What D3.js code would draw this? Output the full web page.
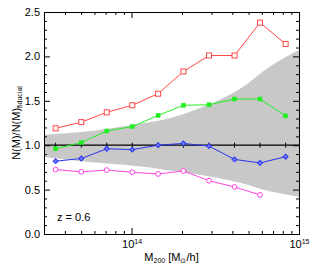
<!DOCTYPE html>
<html>
<head>
<meta charset="utf-8">
<script src="https://cdn.jsdelivr.net/npm/d3@7"></script>
<style>
  body { margin: 0; background: #fff; }
  svg text { font-family: "Liberation Sans", Arial, sans-serif; }
</style>
</head>
<body>
<div id="chart"></div>
<script>
// mass bins (M_sun/h)
var masses = [3.52e13, 5.01e13, 7.11e13, 1.01e14, 1.44e14, 2.04e14, 2.90e14, 4.12e14, 5.85e14, 8.32e14];
var redVals = [1.19, 1.26, 1.37, 1.45, 1.58, 1.83, 2.01, 2.01, 2.38, 2.14];
var greenVals = [0.96, 1.03, 1.16, 1.21, 1.335, 1.45, 1.455, 1.52, 1.52, 1.33];
var blueVals = [0.82, 0.85, 0.96, 0.95, 1.0, 1.02, 0.99, 0.84, 0.80, 0.87];
var magentaVals = [0.725, 0.70, 0.72, 0.695, 0.676, 0.71, 0.60, 0.53, 0.44];
var fiducialVals = [1, 1, 1, 1, 1, 1, 1, 1, 1, 1];

// grey band edges
var bandMass = [3e13, 5e13, 1.1e14, 1.5e14, 2.5e14, 4.5e14, 6.7e14, 1e15];
var bandUpper = [1.118, 1.148, 1.24, 1.28, 1.41, 1.64, 1.885, 2.073];
var bandLower = [0.867, 0.818, 0.762, 0.73, 0.67, 0.575, 0.481, 0.42];

var yMajor = [0, 0.5, 1.0, 1.5, 2.0, 2.5];
var xMajor = [1e14, 1e15];
var xMajorExp = ["14", "15"];

var margin = { top: 12, right: 20, bottom: 32, left: 44 },
    width = 319 - margin.left - margin.right,
    height = 266 - margin.top - margin.bottom;

var svg = d3.select("#chart")
    .append("svg")
    .attr("width", 319)
    .attr("height", 266)
    .append("g")
    .attr("transform", "translate(" + margin.left + "," + margin.top + ")");

var x = d3.scaleLog().domain([3e13, 1e15]).range([0, width]);
var y = d3.scaleLinear().domain([0, 2.5]).range([height, 0]);

svg.append("defs").append("clipPath").attr("id", "clip")
    .append("rect").attr("width", width).attr("height", height);

var plot = svg.append("g").attr("clip-path", "url(#clip)");

// band
var bandData = bandMass.map(function (m, i) { return { m: m, lo: bandLower[i], hi: bandUpper[i] }; });
plot.append("path")
    .datum(bandData)
    .attr("fill", "#c8c8c8")
    .attr("d", d3.area()
        .curve(d3.curveMonotoneX)
        .x(function (d) { return x(d.m); })
        .y0(function (d) { return y(d.lo); })
        .y1(function (d) { return y(d.hi); }));

// fiducial line
plot.append("line")
    .attr("x1", 0).attr("x2", width)
    .attr("y1", y(1)).attr("y2", y(1))
    .attr("stroke", "#000").attr("stroke-width", 1.2);
plot.selectAll(".fid")
    .data(fiducialVals)
    .enter().append("line")
    .attr("x1", function (d, i) { return x(masses[i]); })
    .attr("x2", function (d, i) { return x(masses[i]); })
    .attr("y1", function (d) { return y(d) - 2.5; })
    .attr("y2", function (d) { return y(d) + 2.5; })
    .attr("stroke", "#000").attr("stroke-width", 1);

function series(vals, color, marker) {
    var pts = vals.map(function (v, i) { return [x(masses[i]), y(v)]; });
    plot.append("path")
        .attr("d", d3.line()(pts))
        .attr("fill", "none")
        .attr("stroke", color)
        .attr("stroke-width", 1);
    var g = plot.append("g");
    pts.forEach(function (p) {
        if (marker === "openSquare") {
            g.append("rect").attr("x", p[0] - 2.5).attr("y", p[1] - 2.5)
                .attr("width", 5).attr("height", 5)
                .attr("fill", "#fff").attr("stroke", color);
        } else if (marker === "filledSquare") {
            g.append("rect").attr("x", p[0] - 2).attr("y", p[1] - 2)
                .attr("width", 4).attr("height", 4)
                .attr("fill", color).attr("stroke", color).attr("stroke-width", 0.6);
        } else if (marker === "diamond") {
            g.append("path")
                .attr("d", d3.symbol().type(d3.symbolSquare).size(12)())
                .attr("transform", "translate(" + p[0] + "," + p[1] + ") rotate(45)")
                .attr("fill", "#6f7cff").attr("stroke", color);
        } else {
            g.append("circle").attr("cx", p[0]).attr("cy", p[1]).attr("r", 2.4)
                .attr("fill", "#fff").attr("stroke", color);
        }
    });
}

series(redVals, "#ff4848", "openSquare");
series(greenVals, "#22ee22", "filledSquare");
series(blueVals, "#2a36ee", "diamond");
series(magentaVals, "#ff44e0", "openCircle");

// axes
var yMinor = d3.range(0, 2.51, 0.1).filter(function (v) {
    return Math.abs(v * 2 - Math.round(v * 2)) > 1e-6;
});
var xMinor = [4e13, 5e13, 6e13, 7e13, 8e13, 9e13, 2e14, 3e14, 4e14, 5e14, 6e14, 7e14, 8e14, 9e14];

function styleAxis(g) {
    g.selectAll("path.domain").attr("stroke", "#000");
    g.selectAll("line").attr("stroke", "#000");
    g.selectAll("text").attr("font-size", 11).attr("fill", "#000")
        .attr("font-family", "Liberation Sans, Arial, sans-serif");
}

svg.append("g")
    .call(d3.axisLeft(y).tickValues(yMajor).tickSize(-6).tickPadding(4).tickFormat(d3.format(".1f")))
    .call(styleAxis);
svg.append("g")
    .call(d3.axisLeft(y).tickValues(yMinor).tickSize(-3).tickFormat(""))
    .call(styleAxis);
svg.append("g").attr("transform", "translate(" + width + ",0)")
    .call(d3.axisRight(y).tickValues(yMajor).tickSize(-6).tickFormat(""))
    .call(styleAxis);
svg.append("g").attr("transform", "translate(" + width + ",0)")
    .call(d3.axisRight(y).tickValues(yMinor).tickSize(-3).tickFormat(""))
    .call(styleAxis);

var xAxisG = svg.append("g").attr("transform", "translate(0," + height + ")")
    .call(d3.axisBottom(x).tickValues(xMajor).tickSize(-6).tickPadding(6).tickFormat(function () { return "10"; }))
    .call(styleAxis);
xAxisG.selectAll(".tick text").each(function (d, i) {
    d3.select(this).append("tspan")
        .attr("font-size", 7)
        .attr("dy", "-0.55em")
        .text(xMajorExp[i]);
});
svg.append("g").attr("transform", "translate(0," + height + ")")
    .call(d3.axisBottom(x).tickValues(xMinor).tickSize(-3).tickFormat(""))
    .call(styleAxis);
svg.append("g")
    .call(d3.axisTop(x).tickValues(xMajor).tickSize(-6).tickFormat(""))
    .call(styleAxis);
svg.append("g")
    .call(d3.axisTop(x).tickValues(xMinor).tickSize(-3).tickFormat(""))
    .call(styleAxis);

// labels
var xl = svg.append("text")
    .attr("x", width / 2)
    .attr("y", height + 27)
    .attr("text-anchor", "middle")
    .attr("font-size", 11);
xl.append("tspan").text("M");
xl.append("tspan").attr("font-size", 7).attr("dy", 2).text("200");
xl.append("tspan").attr("dy", -2).text(" [M");
xl.append("tspan").attr("font-size", 7).attr("dy", 2).text("\u2299");
xl.append("tspan").attr("dy", -2).text("/h]");

var yl = svg.append("text")
    .attr("transform", "translate(" + (-24) + "," + (height / 2) + ") rotate(-90)")
    .attr("text-anchor", "middle")
    .attr("font-size", 11);
yl.append("tspan").text("N(M)/N(M)");
yl.append("tspan").attr("font-size", 7).attr("dy", 2).text("fiducial");

svg.append("text")
    .attr("x", 13)
    .attr("y", y(0.15))
    .attr("font-size", 11)
    .text("z = 0.6");
</script>
</body>
</html>
